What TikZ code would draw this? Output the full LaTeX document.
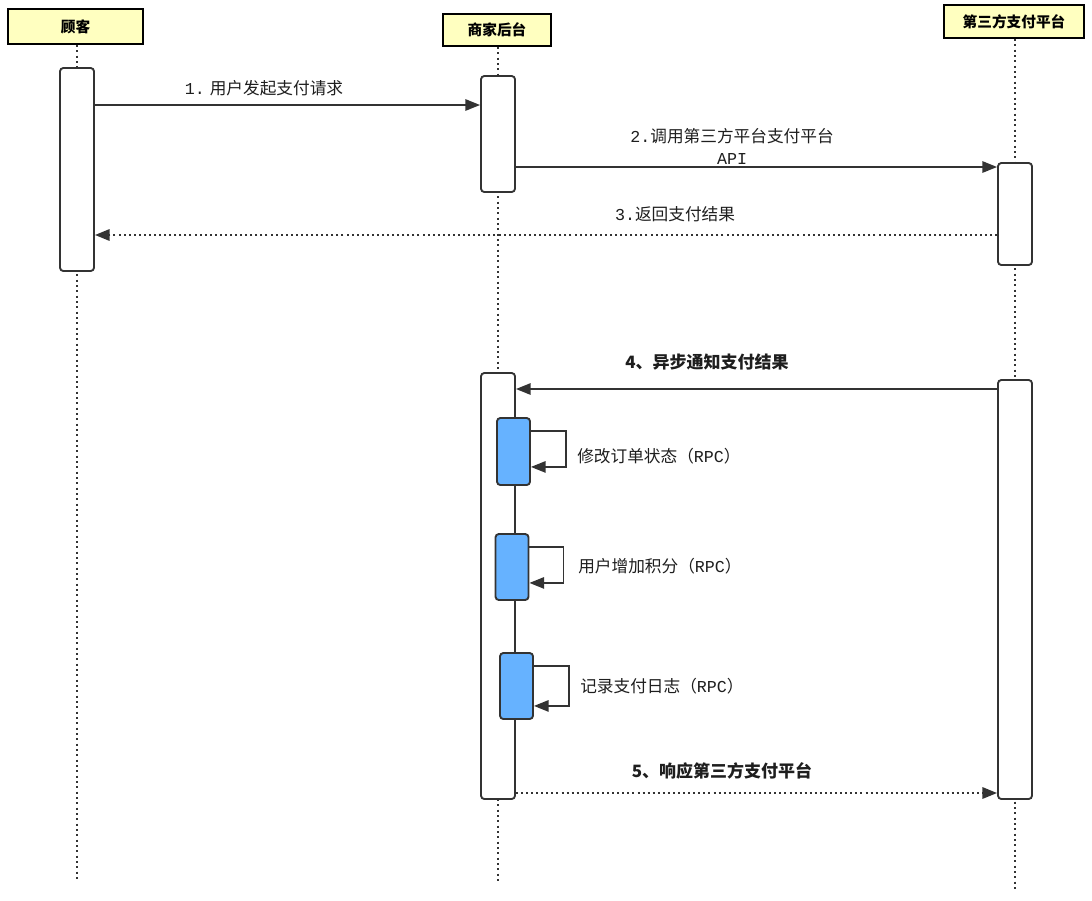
\documentclass[tikz,border=0pt]{standalone}
\usepackage{fontspec}
\setmainfont{Noto Sans CJK SC}
\newfontfamily\cjk{Noto Sans CJK SC}
\newfontfamily\mono{Liberation Mono}
\usetikzlibrary{arrows.meta}
\definecolor{hdryellow}{RGB}{255,255,192}
\definecolor{blueact}{RGB}{102,178,255}
\definecolor{linegray}{RGB}{51,51,51}
\definecolor{textgray}{RGB}{30,30,30}
\tikzset{
  hdr/.style={draw=black, line width=1.5pt, fill=hdryellow, font=\cjk\bfseries\fontsize{11}{13}\selectfont, inner sep=0pt},
  act/.style={draw=linegray, line width=1.4pt, fill=white, rounded corners=2.5pt, minimum width=25.5pt, inner sep=0pt},
  blk/.style={act, fill=blueact, minimum width=24.75pt},
  life/.style={draw=linegray, line width=1.7pt, dash pattern=on 1.6pt off 2.4pt},
  msg/.style={draw=linegray, line width=1.3pt, -{Triangle[length=11pt,width=8.5pt]}},
  ret/.style={msg, line width=1.6pt, dash pattern=on 1.5pt off 2.3pt},
  lbl/.style={font=\cjk\fontsize{12.5}{16.5}\selectfont, text=textgray, inner sep=0pt},
  blbl/.style={lbl, font=\cjk\bfseries\fontsize{12.75}{16.5}\selectfont}
}
\begin{document}
\begin{tikzpicture}[x=0.75pt,y=-0.75pt]
\useasboundingbox[fill=white] (0,0) rectangle (1092,900);
% headers
\node[hdr, minimum width=101.25pt, minimum height=26.25pt] (hA) at (75.5,26.5) {顾客};
\node[hdr, minimum width=81pt, minimum height=24pt] (hB) at (497,30) {商家后台};
\node[hdr, minimum width=105pt, minimum height=24.75pt] (hC) at (1014,21.5) {第三方支付平台};
% lifeline ends
\coordinate (lA) at (77,880);
\coordinate (lB) at (498,883);
\coordinate (lC) at (1015,890);
\draw[life] (hA.south -| lA) -- (lA);
\draw[life] (hB.south -| lB) -- (lB);
\draw[life] (hC.south -| lC) -- (lC);
% activations
\node[act, minimum height=152.25pt] (aA) at (77,169.5) {};
\node[act, minimum height=87pt] (aB1) at (498,134) {};
\node[act, minimum height=319.5pt] (aB2) at (498,586) {};
\node[act, minimum height=76.5pt] (aC1) at (1015,214) {};
\node[act, minimum height=314.25pt] (aC2) at (1015,589.5) {};
% blue blocks
\node[blk, minimum height=50.25pt] (b1) at (513.5,451.5) {};
\node[blk, minimum height=49.5pt] (b2) at (512,567) {};
\node[blk, minimum height=49.5pt] (b3) at (516.5,686) {};
% message rows
\coordinate (r1) at (0,105);
\coordinate (r2) at (0,167);
\coordinate (r3) at (0,235);
\coordinate (r4) at (0,389);
\coordinate (r5) at (0,793);
\draw[msg] (aA.east |- r1) -- (aB1.west |- r1);
\draw[msg] (aB1.east |- r2) -- (aC1.west |- r2);
\draw[ret] (aC1.west |- r3) -- (aA.east |- r3);
\draw[msg] (aC2.west |- r4) -- (aB2.east |- r4);
\draw[ret] (aB2.east |- r5) -- (aC2.west |- r5);
% self loops
\draw[msg] ([yshift=-10.5pt]b1.north east) -- ++(35,0) |- ([yshift=14.25pt]b1.south east);
\draw[msg] ([yshift=-10.5pt]b2.north east) -- ++(34,0) |- ([yshift=13.5pt]b2.south east);
\draw[msg] ([yshift=-10.5pt]b3.north east) -- ++(35,0) |- ([yshift=10.5pt]b3.south east);
% labels
\node[lbl] (t1) at (264,88) {{\mono 1.} 用户发起支付请求};
\node[lbl, align=center] (t2) at (732,146) {{\mono 2.}调用第三方平台支付平台\\{\mono API}};
\node[lbl] (t3) at (675,214) {{\mono 3.}返回支付结果};
\node[blbl] (t4) at (707,362) {4、异步通知支付结果};
\node[blbl] (t5) at (722,771) {5、响应第三方支付平台};
\node[lbl, anchor=west] (t6) at (577,456) {修改订单状态（{\mono RPC}）};
\node[lbl, anchor=west] (t7) at (578,566) {用户增加积分（{\mono RPC}）};
\node[lbl, anchor=west] (t8) at (580,686) {记录支付日志（{\mono RPC}）};
\end{tikzpicture}
\end{document}
